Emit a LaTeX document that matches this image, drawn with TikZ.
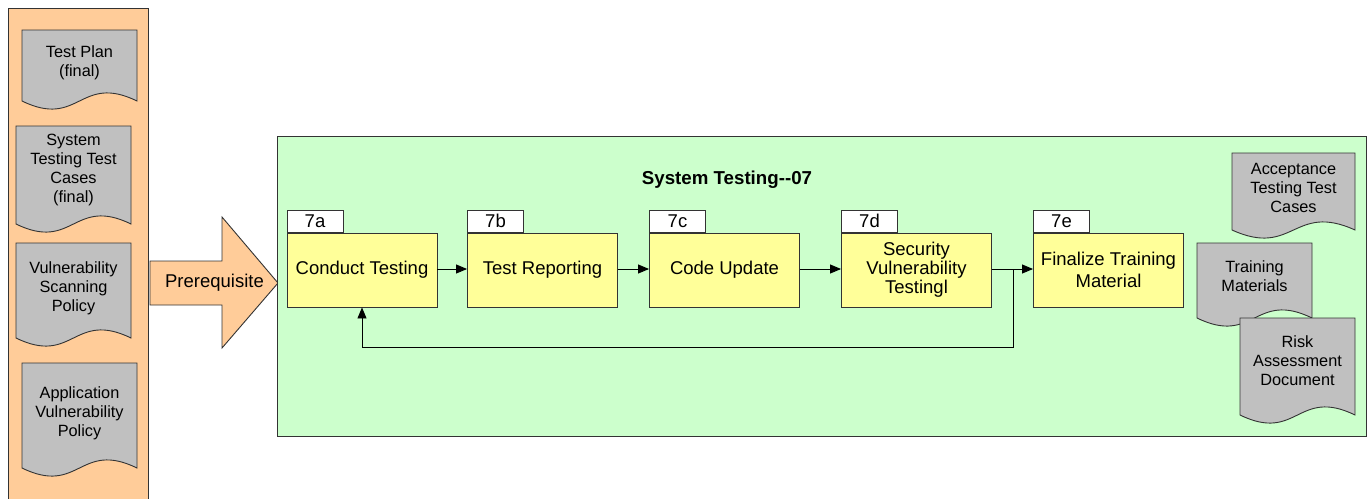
\documentclass[tikz,border=0pt]{standalone}
\usepackage{fontspec}
\setmainfont{Liberation Sans}
\usetikzlibrary{arrows.meta}
\definecolor{peach}{HTML}{FFCC99}
\definecolor{docgray}{HTML}{C0C0C0}
\definecolor{panelgreen}{HTML}{CCFFCC}
\definecolor{procyellow}{HTML}{FFFF99}
\definecolor{edgegray}{HTML}{333333}
\newcommand\fmain{\fontsize{18.5}{19}\selectfont}
\newcommand\fdoc{\fontsize{16.3}{19}\selectfont}
\newcommand\ftitle{\fontsize{18.7}{20}\selectfont\bfseries}
\newcommand\mydoc[4]{% x0, y0, x1, baseline y
  \draw[docstyle] (#1,#2) -- (#3,#2) -- (#3,#4)
    .. controls ({(#1+#3)/2},{#4-28}) and ({(#1+#3)/2},{#4+28}) .. (#1,#4) -- cycle;}
\begin{document}
\begin{tikzpicture}[x=1pt,y=-1pt,
  docstyle/.style={draw=edgegray, line width=0.9pt, fill=docgray},
  doctext/.style={align=center, font=\fdoc, inner sep=0pt},
  procbox/.style={draw=edgegray, line width=0.9pt, fill=procyellow, minimum width=150pt, minimum height=74pt, inner sep=0pt, align=center, font=\fmain},
  tabbox/.style={draw=edgegray, line width=0.9pt, fill=white, minimum width=56pt, minimum height=22pt, inner sep=0pt, font=\fmain, anchor=south west},
  conn/.style={draw=black, line width=0.9pt, -{Triangle[length=11pt,width=9pt]}},
  line/.style={draw=black, line width=0.9pt}]
\useasboundingbox (0,0) rectangle (1372,498);
% left panel
\path[draw=edgegray, line width=0.9pt, fill=peach] (8,8) rectangle (148,499);
\mydoc{22}{30}{137}{101}
\node[doctext] (d1) at (79.5,63) {Test Plan\\(final)};
\mydoc{16}{126}{131}{224}
\node[doctext] (d2) at (73.5,170) {System\\Testing Test\\Cases\\(final)};
\mydoc{16}{243}{131}{338}
\node[doctext] (d3) at (73.5,288) {Vulnerability\\Scanning\\Policy};
\mydoc{22}{363}{137}{468}
\node[doctext] (d4) at (79.5,413) {Application\\Vulnerability\\Policy};
% prerequisite arrow
\path[draw=edgegray, line width=0.9pt, fill=peach]
  (150,261) -- (222,261) -- (222,217) -- (278,283) -- (222,348) -- (222,305) -- (150,305) -- cycle;
\node[font=\fmain, inner sep=0pt] (pre) at (214.5,283) {Prerequisite};
% green panel
\path[draw=edgegray, line width=0.9pt, fill=panelgreen] (277,136) rectangle (1366,436);
\node[font=\ftitle, inner sep=0pt] (title) at (727,180) {System Testing-{}-07};
% process boxes
\node[procbox] (a) at (362,270) {Conduct Testing};
\node[procbox] (b) at (542.5,270) {Test Reporting};
\node[procbox] (c) at (724.5,270) {Code Update};
\node[procbox] (d) at (916.5,270) {Security\\Vulnerability\\Testingl};
\node[procbox] (e) at (1108.5,270) {Finalize Training\\[3pt]Material};
\node[tabbox] (ta) at (a.north west) {7a};
\node[tabbox] (tb) at (b.north west) {7b};
\node[tabbox] (tc) at (c.north west) {7c};
\node[tabbox] (td) at (d.north west) {7d};
\node[tabbox] (te) at (e.north west) {7e};
% connectors
\draw[conn] (a.east |- 0,269) -- (b.west |- 0,269);
\draw[conn] (b.east |- 0,269) -- (c.west |- 0,269);
\draw[conn] (c.east |- 0,269) -- (d.west |- 0,269);
\coordinate (j) at (1013,269);
\draw[line] (d.east |- j) -- (j);
\draw[conn] (j) -- (e.west |- j);
\coordinate (fb1) at (1013,347);
\coordinate (fb2) at (362,347);
\draw[conn] (j) -- (fb1) -- (fb2) -- (a.south);
% right documents
\mydoc{1232}{153}{1355}{230}
\node[doctext] (r1) at (1293.5,188) {Acceptance\\Testing Test\\Cases};
\mydoc{1197}{243}{1312}{318}
\node[doctext] (r2) at (1254.5,276) {Training\\Materials};
\mydoc{1240}{318}{1355}{415}
\node[doctext] (r3) at (1297.5,361) {Risk\\Assessment\\Document};
\end{tikzpicture}
\end{document}
